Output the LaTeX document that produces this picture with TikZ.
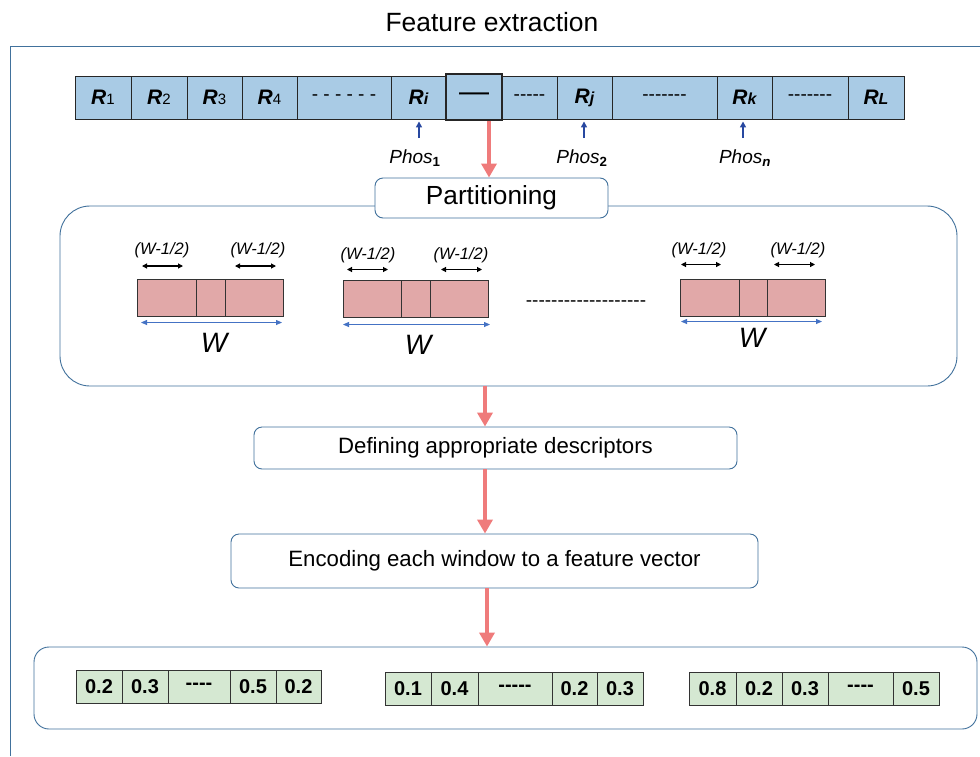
\documentclass[tikz,border=0pt]{standalone}
\usepackage{fontspec}
\setmainfont[Ligatures=TeXOff]{Liberation Sans}
\usetikzlibrary{arrows.meta,calc}
\definecolor{seqblue}{RGB}{169,203,229}
\definecolor{wpink}{RGB}{225,168,168}
\definecolor{vgreen}{RGB}{213,232,210}
\definecolor{framecol}{RGB}{65,113,156}
\definecolor{arrowred}{RGB}{239,123,123}
\definecolor{phosblue}{RGB}{40,72,160}
\definecolor{wblue}{RGB}{68,114,196}
\newcommand{\fsz}[1]{\fontsize{#1}{#1}\selectfont}
\tikzset{
  seqcell/.style={draw=black!85, fill=seqblue, minimum height=43pt, inner sep=0pt, line width=0.9pt, font=\fsz{19}},
  wcell/.style={draw=black!80, fill=wpink, minimum height=37pt, inner sep=0pt, line width=0.9pt},
  vcell/.style={draw=black!80, fill=vgreen, minimum height=33pt, inner sep=0pt, line width=0.9pt, font=\fsz{20}\bfseries},
  stepbox/.style={draw=framecol, fill=white, rounded corners=8pt, line width=0.9pt, inner sep=0pt},
  redarr/.style={draw=arrowred, line width=4.5pt, -{Triangle[length=14pt,width=15pt]}},
  phosarr/.style={draw=phosblue, line width=1.9pt, -{Triangle[length=6pt,width=6pt]}},
  halfarr/.style={draw=black, line width=1.1pt, {Triangle[length=5pt,width=5pt]}-{Triangle[length=5pt,width=5pt]}},
  warr/.style={draw=wblue, line width=0.8pt, {Triangle[length=6pt,width=5pt]}-{Triangle[length=6pt,width=5pt]}},
  halflbl/.style={font=\fsz{16.5}\itshape, inner sep=0pt},
  wlbl/.style={font=\fsz{28}\itshape, inner sep=0pt},
  phoslbl/.style={font=\fsz{19}\itshape, inner sep=0pt},
}
\newcommand{\Rl}[1]{{\fsz{21}\textbf{\textit{R}}}{\fsz{15}#1}}
\newcommand{\Rb}[1]{{\fsz{21}\textbf{\textit{R}}}{\fsz{16}\bfseries\itshape #1}}
\begin{document}
\begin{tikzpicture}[x=1pt,y=-1pt]
\useasboundingbox (0,0) rectangle (980,756);
% title and frame
\node[font=\fsz{26.4}, inner sep=0pt] (title) at (492,22) {Feature extraction};
\draw[framecol, line width=0.8pt] (10,756) -- (10,46) -- (980,46);
% sequence
\node[seqcell, minimum width=56pt] (c1) at (103,97.5) {\Rl{1}};
\node[seqcell, minimum width=56pt] (c2) at (159,97.5) {\Rl{2}};
\node[seqcell, minimum width=55pt] (c3) at (214.5,97.5) {\Rl{3}};
\node[seqcell, minimum width=55pt] (c4) at (269.5,97.5) {\Rl{4}};
\node[seqcell, minimum width=94pt] (c5) at (344,97.5) {- - - - - -};
\node[seqcell, minimum width=55pt] (c6) at (418.5,97.5) {\Rb{i}};
\node[seqcell, minimum width=55pt] (c8) at (529.5,97.5) {-----};
\node[seqcell, minimum width=55pt] (c9) at (584.5,97.5) {\Rb{j}};
\node[seqcell, minimum width=105pt] (c10) at (664.5,97.5) {-------};
\node[seqcell, minimum width=55pt] (c11) at (744.5,97.5) {\Rb{k}};
\node[seqcell, minimum width=76pt] (c12) at (810,97.5) {-------};
\node[seqcell, minimum width=56pt] (c13) at (876,97.5) {\Rb{L}};
\node[seqcell, minimum width=56pt, minimum height=46pt, line width=1.4pt, font=\fsz{30}] (c7) at (474,97) {—};
% phos labels
\node[phoslbl] (p1) at (415,158) {Phos\textsubscript{\textup{\textbf{1}}}};
\node[phoslbl] (p2) at (582,158) {Phos\textsubscript{\textup{\textbf{2}}}};
\node[phoslbl] (p3) at (745,158) {Phos\textsubscript{\textbf{n}}};
\coordinate (q1) at (419,138);
\coordinate (q2) at (584,138);
\coordinate (q3) at (743,138);
\draw[phosarr] (q1) -- ($(q1 |- c6.south)+(0,2)$);
\draw[phosarr] (q2) -- ($(q2 |- c9.south)+(0,2)$);
\draw[phosarr] (q3) -- ($(q3 |- c11.south)+(0,2)$);
% partitioning
\node[draw=framecol, fill=white, rounded corners=30pt, line width=0.9pt, minimum width=897pt, minimum height=180pt, inner sep=0pt] (pbox) at (508.5,296) {};
\node[stepbox, minimum width=233pt, minimum height=40pt, font=\fsz{26.2}] (part) at (491.5,198) {Partitioning};
\coordinate (a0) at (489,0);
\draw[redarr] (a0 |- c7.south) -- (a0 |- part.north);
% windows
\node[wcell, minimum width=59pt] (w1a) at (166.5,297.5) {};
\node[wcell, minimum width=29pt] (w1b) at (210.5,297.5) {};
\node[wcell, minimum width=58pt] (w1c) at (254,297.5) {};
\node[wcell, minimum width=58pt] (w2a) at (372,299) {};
\node[wcell, minimum width=29pt] (w2b) at (415.5,299) {};
\node[wcell, minimum width=58pt] (w2c) at (459,299) {};
\node[wcell, minimum width=59pt] (w3a) at (709.5,297.5) {};
\node[wcell, minimum width=28pt] (w3b) at (753,297.5) {};
\node[wcell, minimum width=58pt] (w3c) at (796,297.5) {};
% window 1 annotations
\coordinate (h1a) at (142,266); \coordinate (h1b) at (183,266);
\coordinate (h1c) at (235,266); \coordinate (h1d) at (276,266);
\draw[halfarr] (h1a) -- (h1b);
\draw[halfarr] (h1c) -- (h1d);
\node[halflbl] (l1a) at (162,250) {(W-1/2)};
\node[halflbl] (l1b) at (258,250) {(W-1/2)};
\coordinate (b1a) at (141,322.5); \coordinate (b1b) at (282,322.5);
\draw[warr] (b1a) -- (b1b);
\node[wlbl] (W1) at (214,343) {W};
% window 2 annotations
\coordinate (h2a) at (347,269.5); \coordinate (h2b) at (388,269.5);
\coordinate (h2c) at (441,269.5); \coordinate (h2d) at (482,269.5);
\draw[halfarr] (h2a) -- (h2b);
\draw[halfarr] (h2c) -- (h2d);
\node[halflbl] (l2a) at (368,255) {(W-1/2)};
\node[halflbl] (l2b) at (461,255) {(W-1/2)};
\coordinate (b2a) at (343,324.5); \coordinate (b2b) at (490,324.5);
\draw[warr] (b2a) -- (b2b);
\node[wlbl] (W2) at (418,345) {W};
% dashes between
\node[font=\fsz{19}, inner sep=0pt] (wdots) at (586,304) {-------------------};
% window 3 annotations
\coordinate (h3a) at (681,264.5); \coordinate (h3b) at (721,264.5);
\coordinate (h3c) at (774,264.5); \coordinate (h3d) at (815,264.5);
\draw[halfarr] (h3a) -- (h3b);
\draw[halfarr] (h3c) -- (h3d);
\node[halflbl] (l3a) at (699,250) {(W-1/2)};
\node[halflbl] (l3b) at (798,250) {(W-1/2)};
\coordinate (b3a) at (681,321.5); \coordinate (b3b) at (822,321.5);
\draw[warr] (b3a) -- (b3b);
\node[wlbl] (W3) at (752,338) {W};
% steps
\node[stepbox, minimum width=483pt, minimum height=42pt, font=\fsz{22.2}] (def) at (495.5,448) {Defining appropriate descriptors};
\node[stepbox, minimum width=527pt, minimum height=54pt, font=\fsz{22.2}] (enc) at (494.5,561) {Encoding each window to a feature vector};
\node[draw=framecol, fill=white, rounded corners=15pt, line width=0.9pt, minimum width=943pt, minimum height=82pt, inner sep=0pt] (vbox) at (505.5,688) {};
\coordinate (a1) at (485,0);
\coordinate (a2) at (487,0);
\draw[redarr] (a1 |- pbox.south) -- (a1 |- def.north);
\draw[redarr] (a1 |- def.south) -- (a1 |- enc.north);
\draw[redarr] (a2 |- enc.south) -- (a2 |- vbox.north);
% vectors
\node[vcell, minimum width=46pt] (v1a) at (99,686.5) {0.2};
\node[vcell, minimum width=46pt] (v1b) at (145,686.5) {0.3};
\node[vcell, minimum width=62pt] (v1c) at (199,686.5) {----};
\node[vcell, minimum width=46pt] (v1d) at (253,686.5) {0.5};
\node[vcell, minimum width=45pt] (v1e) at (298.5,686.5) {0.2};
\node[vcell, minimum width=46pt] (v2a) at (408,688.5) {0.1};
\node[vcell, minimum width=47pt] (v2b) at (454.5,688.5) {0.4};
\node[vcell, minimum width=74pt] (v2c) at (515,688.5) {-----};
\node[vcell, minimum width=45pt] (v2d) at (574.5,688.5) {0.2};
\node[vcell, minimum width=46pt] (v2e) at (620,688.5) {0.3};
\node[vcell, minimum width=47pt] (v3a) at (712.5,688.5) {0.8};
\node[vcell, minimum width=46pt] (v3b) at (759,688.5) {0.2};
\node[vcell, minimum width=46pt] (v3c) at (805,688.5) {0.3};
\node[vcell, minimum width=65pt] (v3d) at (860.5,688.5) {----};
\node[vcell, minimum width=46pt] (v3e) at (916,688.5) {0.5};
\end{tikzpicture}
\end{document}
